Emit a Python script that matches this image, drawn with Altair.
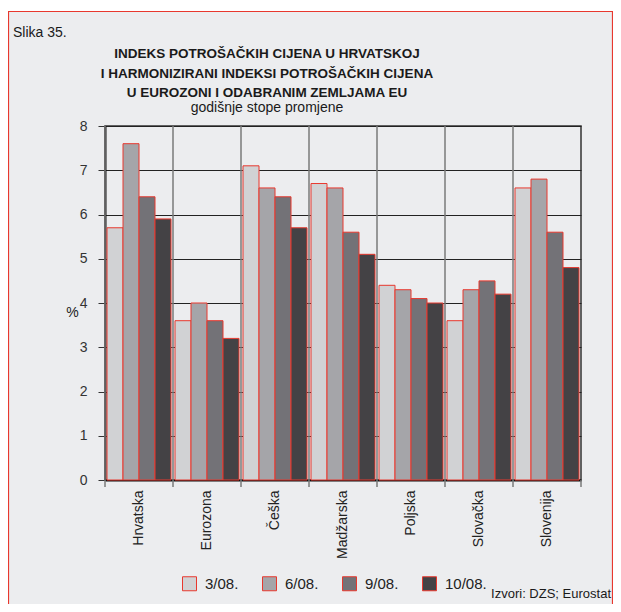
import altair as alt
import pandas as pd

countries = ["Hrvatska", "Eurozona", "Češka", "Madžarska", "Poljska", "Slovačka", "Slovenija"]
periods = ["3/08.", "6/08.", "9/08.", "10/08."]
v_3_08 = [5.7, 3.6, 7.1, 6.7, 4.4, 3.6, 6.6]
v_6_08 = [7.6, 4.0, 6.6, 6.6, 4.3, 4.3, 6.8]
v_9_08 = [6.4, 3.6, 6.4, 5.6, 4.1, 4.5, 5.6]
v_10_08 = [5.9, 3.2, 5.7, 5.1, 4.0, 4.2, 4.8]
y_ticks = [0, 1, 2, 3, 4, 5, 6, 7, 8]
bar_colors = ["#D1D2D4", "#A5A5A9", "#737277", "#444245"]
title_lines = ["INDEKS POTROŠAČKIH CIJENA U HRVATSKOJ",
               "I HARMONIZIRANI INDEKSI POTROŠAČKIH CIJENA",
               "U EUROZONI I ODABRANIM ZEMLJAMA EU"]
subtitle = ["godišnje stope promjene"]
fig_label = ["Slika 35."]
source = ["Izvori: DZS; Eurostat"]

series = [v_3_08, v_6_08, v_9_08, v_10_08]
rows = []
for p, vals in zip(periods, series):
    for c, v in zip(countries, vals):
        rows.append({"country": c, "period": p, "value": v})
df = pd.DataFrame(rows)
df_c = pd.DataFrame({"country": countries})

FONT = "Liberation Sans"
RED = "#E8382E"
W, H = 476, 354

x_axis = alt.Axis(title=None, labelAngle=270, labelAlign="right", labelBaseline="middle",
                  labelPadding=10, labelFontSize=14, labelColor="#222", labelFont=FONT,
                  ticks=False, grid=False, domainColor="#111", domainWidth=2)
x_scale = alt.Scale(domain=countries, paddingInner=0, paddingOuter=0)

bars = alt.Chart(df).mark_bar(stroke=RED, strokeWidth=1).encode(
    x=alt.X("country:N", sort=countries, scale=x_scale, axis=x_axis),
    xOffset=alt.XOffset("period:N", sort=periods,
                        scale=alt.Scale(domain=periods, paddingInner=0, paddingOuter=0.125)),
    y=alt.Y("value:Q", scale=alt.Scale(domain=[0, 8], nice=False),
            axis=alt.Axis(values=y_ticks, grid=True, gridColor="#222", gridWidth=1,
                          tickSize=7, tickColor="#333", domainColor="#111", domainWidth=2,
                          labelPadding=11, labelFontSize=14, labelColor="#333", labelFont=FONT,
                          title="%", titleAngle=0, titleX=-33, titleY=186, titleAlign="center",
                          titleBaseline="middle", titleFontSize=14, titleFontWeight="normal",
                          titleFont=FONT, titleColor="#222")),
    color=alt.Color("period:N", sort=periods,
                    scale=alt.Scale(domain=periods, range=bar_colors),
                    legend=alt.Legend(title=None, orient="none", legendX=77, legendY=450,
                                      direction="horizontal", columns=4, symbolType="square",
                                      symbolSize=196, symbolStrokeColor=RED, symbolStrokeWidth=1,
                                      symbolOpacity=1, labelFontSize=15, labelFont=FONT,
                                      labelColor="#222", labelOffset=8, columnPadding=21,
                                      padding=0)),
)

bounds = alt.Chart(df_c).mark_rule(color="#7A7A7A", strokeWidth=1.5).encode(
    x=alt.X("country:N", sort=countries, scale=x_scale, axis=x_axis, bandPosition=0),
    y=alt.value(0), y2=alt.value(H + 7),
)
last_tick = alt.Chart(df_c.head(1)).mark_rule(color="#7A7A7A", strokeWidth=1.5).encode(
    x=alt.value(W), y=alt.value(H), y2=alt.value(H + 7),
)


def text_layer(lines, x, y, size, weight="normal", align="center"):
    return alt.Chart(pd.DataFrame({"t": lines})).mark_text(
        align=align, baseline="alphabetic", fontSize=size, font=FONT,
        fontWeight=weight, color="#1a1a1a").encode(
        x=alt.value(x), y=alt.value(y), text="t:N")


title_y = [-68, -48, -29]
title_layers = [text_layer([ln], 162, ty, 13.5, "bold") for ln, ty in zip(title_lines, title_y)]
sub_layer = text_layer(subtitle, 162, -14, 14)
label_txt = text_layer(fig_label, -92, -89, 14, align="left")
source_txt = text_layer(source, 506, 472, 13, align="right")

white_strip = alt.Chart(df_c.head(1)).mark_rect(color="white").encode(
    x=alt.value(-97), x2=alt.value(520), y=alt.value(-118), y2=alt.value(-115))
frame = alt.Chart(df_c.head(1)).mark_rect(fillOpacity=0, stroke=RED, strokeWidth=1.2).encode(
    x=alt.value(-96.5), x2=alt.value(507.5), y=alt.value(-114.5), y2=alt.value(H + 140))

chart = alt.layer(white_strip, frame, bounds, last_tick, bars, *title_layers, sub_layer,
                  label_txt, source_txt).properties(
    width=W, height=H,
    background="#ECEDEF",
    autosize=alt.AutoSizeParams(type="none"),
    padding={"left": 97, "top": 118, "right": 32, "bottom": 124},
).configure_view(stroke="#333", strokeWidth=1.5)

chart.save("out.html", embed_options={"renderer": "svg", "actions": False})
